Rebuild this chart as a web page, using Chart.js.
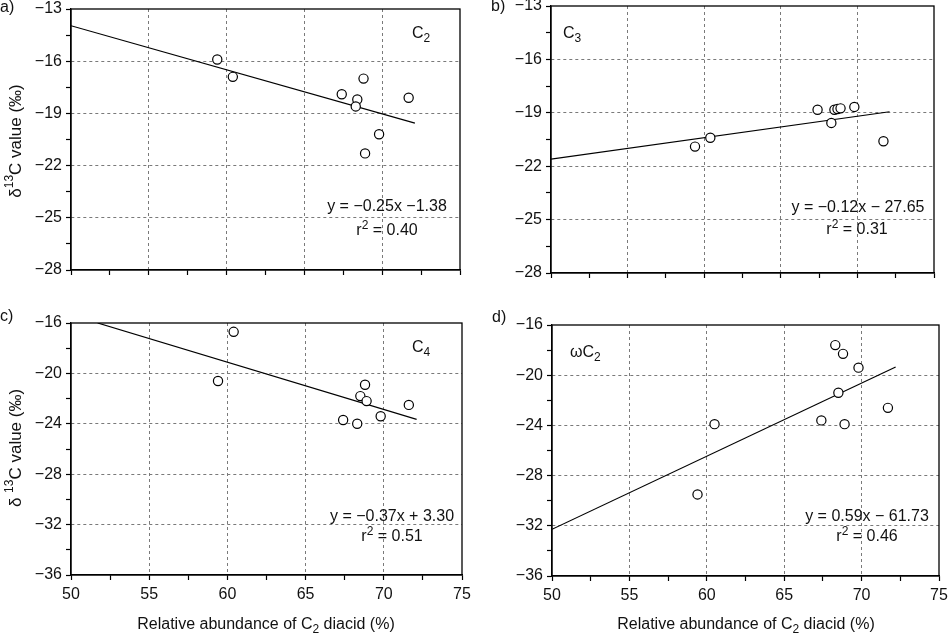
<!DOCTYPE html>
<html>
<head>
<meta charset="utf-8">
<script src="https://cdn.jsdelivr.net/npm/chart.js@4.4.1/dist/chart.umd.min.js"></script>
<style>
    html, body { margin: 0; padding: 0; background: #fff; }
    #wrap { position: relative; width: 949px; height: 637px; overflow: hidden; }
    #wrap canvas { position: absolute; }
</style>
</head>
<body>
<div id="wrap">
    <canvas id="panelA" width="475" height="300" style="left:0;top:0"></canvas>
    <canvas id="panelB" width="474" height="300" style="left:475px;top:0"></canvas>
    <canvas id="panelC" width="475" height="337" style="left:0;top:300px"></canvas>
    <canvas id="panelD" width="474" height="337" style="left:475px;top:300px"></canvas>
</div>
<script>
// Relative abundance of C2 diacid (%) and d13C values per panel
const abundanceA = [59.4, 60.4, 67.4, 68.4, 68.3, 68.8, 69.8, 68.9, 71.7];
const deltaC2 = [-15.9, -16.9, -17.9, -18.2, -18.6, -17.0, -20.2, -21.3, -18.1];
const fitXA = [50, 72.1];
const fitYA = [-13.96, -19.56];

const abundanceB = [59.4, 60.4, 67.4, 68.5, 68.7, 68.9, 69.8, 68.3, 71.7];
const deltaC3 = [-20.9, -20.4, -18.83, -18.83, -18.79, -18.75, -18.67, -19.57, -20.6];
const fitXB = [50, 72.1];
const fitYB = [-21.6, -18.94];

const abundanceC = [59.4, 60.4, 67.4, 68.3, 68.5, 68.8, 68.9, 69.8, 71.6];
const deltaC4 = [-20.6, -16.7, -23.7, -24.0, -21.8, -20.9, -22.2, -23.4, -22.5];
const fitXC = [51.7, 72.1];
const fitYC = [-16.0, -23.65];

const abundanceD = [68.3, 68.8, 69.8, 68.5, 71.7, 67.4, 68.9, 60.5, 59.4];
const deltaWC2 = [-17.6, -18.3, -19.4, -21.4, -22.6, -23.6, -23.9, -23.9, -29.5];
const fitXD = [50, 72.2];
const fitYD = [-32.28, -19.35];

// Axis ranges and tick steps
const xRange = [50, 75];
const xStep = 2.5;
const xMajor = 5;
const yRangeTop = [-28, -13];
const yStepTop = 1.5;
const yMajorTop = 3;
const yRangeBottom = [-36, -16];
const yStepBottom = 2;
const yMajorBottom = 4;

const FONT = "'Liberation Sans', Arial, Helvetica, sans-serif";
const MINUS = '\u2212';

function isMajor(value, min, major) {
    const k = (value - min) / major;
    return Math.abs(k - Math.round(k)) < 1e-6;
}

function fmt(v) {
    return v < 0 ? MINUS + Math.abs(v) : String(v);
}

// Rich-text pieces for the axis titles
const xTitleParts = [{ t: 'Relative abundance of C' }, { t: '2', sub: true }, { t: ' diacid (%)' }];
const yTitlePartsA = [{ t: '\u03b4' }, { t: '13', sup: true }, { t: 'C value (\u2030)' }];
const yTitlePartsC = [{ t: '\u03b4 ' }, { t: '13', sup: true }, { t: 'C value (\u2030)' }];

/**
 * Draws a line made of text parts, some of them sub- or superscript
 */
function drawRich(ctx, item) {
    const size = item.size || 16;
    const small = Math.round(size * 0.72);
    let width = 0;
    item.parts.forEach(p => {
        ctx.font = (p.sub || p.sup ? small : size) + 'px ' + FONT;
        p.w = ctx.measureText(p.t).width;
        width += p.w;
    });
    ctx.save();
    ctx.translate(item.x, item.y);
    if (item.rotate) ctx.rotate(-Math.PI / 2);
    let x = item.align === 'center' ? -width / 2 : 0;
    ctx.textBaseline = 'middle';
    ctx.textAlign = 'left';
    ctx.fillStyle = '#111';
    item.parts.forEach(p => {
        ctx.font = (p.sub || p.sup ? small : size) + 'px ' + FONT;
        let y = 0;
        if (p.sub) y += size * 0.32;
        if (p.sup) y -= size * 0.35;
        ctx.fillText(p.t, x, y);
        x += p.w;
    });
    ctx.restore();
}

// Frame around the plot area plus the panel's free texts
const panelDecor = {
    id: 'panelDecor',
    afterDraw(chart, args, opts) {
        const { ctx, chartArea } = chart;
        ctx.save();
        ctx.strokeStyle = '#000';
        ctx.lineWidth = 1.3;
        ctx.strokeRect(chartArea.left, chartArea.top,
            chartArea.right - chartArea.left, chartArea.bottom - chartArea.top);
        (opts.items || []).forEach(item => drawRich(ctx, item));
        ctx.restore();
    }
};

/**
 * Builds one panel of the figure
 */
function createPanel(id, cfg) {
    const ctx = document.getElementById(id);
    const points = cfg.xs.map((x, i) => ({ x: x, y: cfg.ys[i] }));
    const fit = cfg.fitX.map((x, i) => ({ x: x, y: cfg.fitY[i] }));
    const [yMin, yMax] = cfg.yRange;

    const gridColor = (min, max, major) => c => {
        const v = c.tick ? c.tick.value : null;
        if (v === null || v === min || v === max) return 'rgba(0,0,0,0)';
        return isMajor(v, min, major) ? '#7a7a7a' : 'rgba(0,0,0,0)';
    };

    return new Chart(ctx, {
        type: 'scatter',
        data: {
            datasets: [{
                data: points,
                pointRadius: 4.6,
                pointBorderWidth: 1.2,
                pointBorderColor: '#000',
                pointBackgroundColor: '#fff',
                showLine: false
            }, {
                data: fit,
                showLine: true,
                borderColor: '#000',
                borderWidth: 1.2,
                pointRadius: 0
            }]
        },
        options: {
            responsive: false,
            animation: false,
            layout: { padding: cfg.padding },
            scales: {
                x: {
                    type: 'linear',
                    min: xRange[0],
                    max: xRange[1],
                    afterBuildTicks: s => {
                        const ticks = [];
                        for (let v = xRange[0]; v <= xRange[1] + 1e-9; v += xStep) ticks.push({ value: v });
                        s.ticks = ticks;
                    },
                    afterFit: s => {
                        s.height = cfg.xAxisHeight;
                        s.paddingLeft = 0;
                        s.paddingRight = 0;
                    },
                    grid: {
                        color: gridColor(xRange[0], xRange[1], xMajor),
                        lineWidth: 1,
                        tickColor: '#000',
                        tickLength: 5,
                        tickWidth: 1.2
                    },
                    border: { display: true, color: '#000', width: 1.3, dash: [3, 3] },
                    ticks: {
                        autoSkip: false,
                        maxRotation: 0,
                        padding: 5,
                        color: '#111',
                        font: { family: FONT, size: 16 },
                        callback: v => (cfg.xLabels && isMajor(v, xRange[0], xMajor)) ? String(v) : ''
                    }
                },
                y: {
                    type: 'linear',
                    min: yMin,
                    max: yMax,
                    afterBuildTicks: s => {
                        const ticks = [];
                        for (let v = yMin; v <= yMax + 1e-9; v += cfg.yStep) ticks.push({ value: v });
                        s.ticks = ticks;
                    },
                    afterFit: s => {
                        s.width = cfg.yAxisWidth;
                        s.paddingTop = 0;
                        s.paddingBottom = 0;
                    },
                    grid: {
                        color: gridColor(yMin, yMax, cfg.yMajor),
                        lineWidth: 1,
                        tickColor: '#000',
                        tickLength: 5,
                        tickWidth: 1.2
                    },
                    border: { display: true, color: '#000', width: 1.3, dash: [3, 3] },
                    ticks: {
                        autoSkip: false,
                        padding: 4,
                        color: '#111',
                        font: { family: FONT, size: 16 },
                        callback: v => isMajor(v, yMin, cfg.yMajor) ? fmt(v) : ''
                    }
                }
            },
            plugins: {
                legend: { display: false },
                tooltip: { enabled: false },
                panelDecor: { items: cfg.texts }
            }
        },
        plugins: [panelDecor]
    });
}

createPanel('panelA', {
    xs: abundanceA, ys: deltaC2, fitX: fitXA, fitY: fitYA,
    yRange: yRangeTop, yStep: yStepTop, yMajor: yMajorTop,
    padding: { left: 0, top: 9, right: 15, bottom: 0 },
    yAxisWidth: 71, xAxisHeight: 30,
    texts: [
        { x: 0, y: 8, size: 16, parts: [{ t: 'a)' }] },
        { x: 16, y: 141, size: 17, rotate: true, align: 'center', parts: yTitlePartsA },
        { x: 412, y: 34, parts: [{ t: 'C' }, { t: '2', sub: true }] },
        { x: 387, y: 207, align: 'center', parts: [{ t: 'y = ' + MINUS + '0.25x ' + MINUS + '1.38' }] },
        { x: 387, y: 231, align: 'center', parts: [{ t: 'r' }, { t: '2', sup: true }, { t: ' = 0.40' }] }
    ]
});

createPanel('panelB', {
    xs: abundanceB, ys: deltaC3, fitX: fitXB, fitY: fitYB,
    yRange: yRangeTop, yStep: yStepTop, yMajor: yMajorTop,
    padding: { left: 0, top: 6, right: 15, bottom: 0 },
    yAxisWidth: 76, xAxisHeight: 27,
    texts: [
        { x: 16, y: 7, size: 16, parts: [{ t: 'b)' }] },
        { x: 88, y: 34, parts: [{ t: 'C' }, { t: '3', sub: true }] },
        { x: 383, y: 208, align: 'center', parts: [{ t: 'y = ' + MINUS + '0.12x ' + MINUS + ' 27.65' }] },
        { x: 382, y: 230, align: 'center', parts: [{ t: 'r' }, { t: '2', sup: true }, { t: ' = 0.31' }] }
    ]
});

createPanel('panelC', {
    xs: abundanceC, ys: deltaC4, fitX: fitXC, fitY: fitYC,
    yRange: yRangeBottom, yStep: yStepBottom, yMajor: yMajorBottom,
    padding: { left: 0, top: 23, right: 13, bottom: 0 },
    yAxisWidth: 71, xAxisHeight: 62,
    xLabels: true,
    texts: [
        { x: 0, y: 17, size: 16, parts: [{ t: 'c)' }] },
        { x: 16, y: 148, size: 17, rotate: true, align: 'center', parts: yTitlePartsC },
        { x: 266, y: 325, align: 'center', parts: xTitleParts },
        { x: 412, y: 48, parts: [{ t: 'C' }, { t: '4', sub: true }] },
        { x: 392, y: 217, align: 'center', parts: [{ t: 'y = ' + MINUS + '0.37x + 3.30' }] },
        { x: 392, y: 237, align: 'center', parts: [{ t: 'r' }, { t: '2', sup: true }, { t: ' = 0.51' }] }
    ]
});

createPanel('panelD', {
    xs: abundanceD, ys: deltaWC2, fitX: fitXD, fitY: fitYD,
    yRange: yRangeBottom, yStep: yStepBottom, yMajor: yMajorBottom,
    padding: { left: 0, top: 25, right: 10, bottom: 0 },
    yAxisWidth: 77, xAxisHeight: 61,
    xLabels: true,
    texts: [
        { x: 17, y: 18, size: 16, parts: [{ t: 'd)' }] },
        { x: 271, y: 325, align: 'center', parts: xTitleParts },
        { x: 95, y: 53, parts: [{ t: '\u03c9C' }, { t: '2', sub: true }] },
        { x: 392, y: 217, align: 'center', parts: [{ t: 'y = 0.59x ' + MINUS + ' 61.73' }] },
        { x: 392, y: 237, align: 'center', parts: [{ t: 'r' }, { t: '2', sup: true }, { t: ' = 0.46' }] }
    ]
});
</script>
</body>
</html>
